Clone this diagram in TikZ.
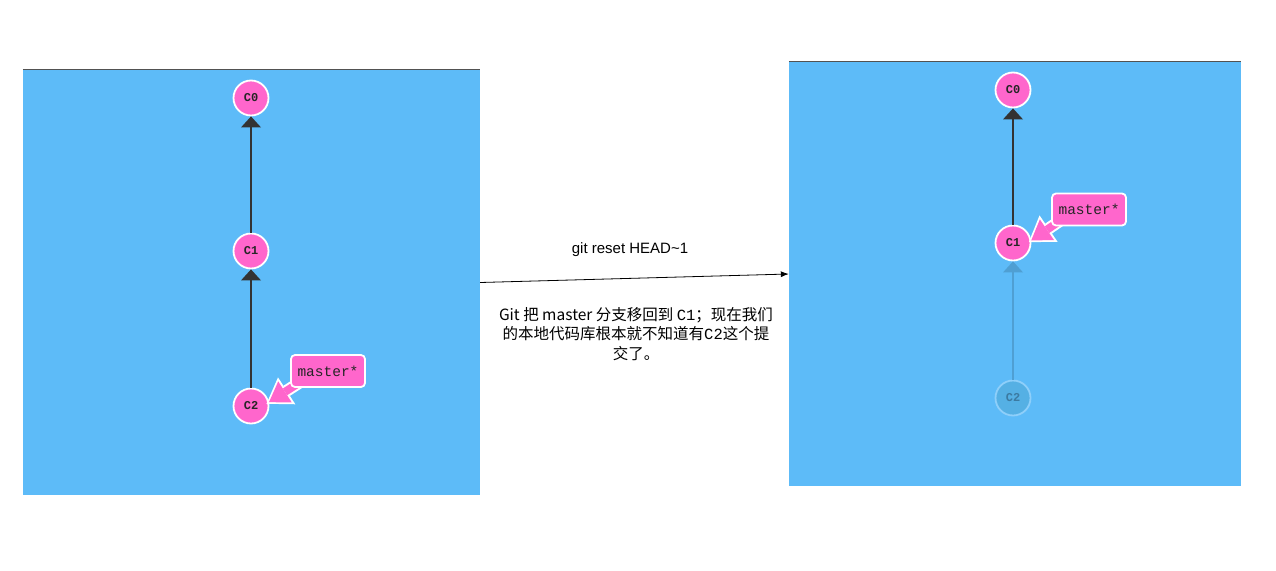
\documentclass[tikz,border=0pt]{standalone}
\usepackage{fontspec}
\setmainfont{Liberation Sans}
\newfontfamily\cjkfont{Noto Sans CJK SC}
\newfontfamily\codefont{Liberation Mono}
\usetikzlibrary{arrows.meta,calc,positioning}
\definecolor{panelblue}{HTML}{5DBBF8}
\definecolor{commitpink}{HTML}{FF66CC}
\definecolor{edgegray}{HTML}{333333}
\definecolor{ghostfill}{HTML}{55B0E4}

\begin{document}
\begin{tikzpicture}[x=1pt, y=-1pt,
    panel/.style={rectangle, fill=panelblue, inner sep=0pt},
    commit/.style={circle, draw=white, line width=1.8pt, fill=commitpink, text=black!85,
                   minimum size=35pt, inner sep=0pt, font=\codefont\bfseries\fontsize{12}{14}\selectfont},
    ghost/.style={fill=ghostfill, draw=panelblue!70!white, text=panelblue!65!black},
    branch/.style={rectangle, rounded corners=4pt, draw=white, line width=1.8pt, fill=commitpink,
                   minimum width=74pt, minimum height=32pt, inner sep=2pt, text=black!85,
                   font=\codefont\fontsize{14.5}{16}\selectfont},
    parent/.style={edgegray, line width=2.4pt, -{Triangle[length=11pt, width=20pt, line width=0pt]}},
    pointer/.style={commitpink, line width=8pt, -{Triangle[length=19pt, width=25pt, line width=0pt]}},
    pointer rim/.style={white, line width=12pt, shorten >=-3pt,
                        -{Triangle[length=24pt, width=32pt, line width=0pt]}},
    note/.style={align=center, font=\fontsize{15}{19.5}\selectfont}
]
    \useasboundingbox (0,0) rectangle (1276,570);

    % panels
    \node[panel, minimum width=457pt, minimum height=425pt] (before) at (251.5,282.5) {};
    \node[panel, minimum width=452pt, minimum height=424pt] (after)  at (1015,274)    {};
    \draw[edgegray!85, line width=1pt] (before.north west) -- (before.north east);
    \draw[edgegray!85, line width=1pt] (after.north west)  -- (after.north east);

    % before reset
    \node[commit] (lc0) at (251,98)  {C0};
    \node[commit] (lc1) at (251,251) {C1};
    \node[commit] (lc2) at (251,406) {C2};
    \draw[parent] (lc1) -- (lc0);
    \draw[parent] (lc2) -- (lc1);
    \coordinate (ltail) at ($(lc2)+(54,-27)$);
    \draw[pointer rim] (ltail) -- (lc2.12);
    \draw[pointer]     (ltail) -- (lc2.12);
    \node[branch] (lmaster) at ($(lc2)+(77,-35)$) {master*};

    % after reset
    \node[commit] (rc0) at (1013,90)  {C0};
    \node[commit] (rc1) at (1013,243) {C1};
    \node[commit, ghost] (rc2) at (1013,398) {C2};
    \draw[parent] (rc1) -- (rc0);
    \draw[parent, draw=panelblue!85!black, fill=panelblue!85!black] (rc2) -- (rc1);
    \coordinate (rtail) at ($(rc1)+(54,-27)$);
    \draw[pointer rim] (rtail) -- (rc1.8);
    \draw[pointer]     (rtail) -- (rc1.8);
    \node[branch] (rmaster) at ($(rc1)+(76,-33.5)$) {master*};

    % reset step
    \draw[line width=0.8pt, -{Latex[length=8pt, width=6pt]}] (before.east) -- (after.west);
    \node[note] (cmd) at (630,250) {git reset HEAD\textasciitilde 1};
    \node[note, font=\cjkfont\fontsize{15.5}{19.5}\selectfont] (explain) at (636,334)
        {Git 把 master 分支移回到 {\codefont C1}；现在我们\\
         的本地代码库根本就不知道有{\codefont C2}这个提\\
         交了。};
\end{tikzpicture}
\end{document}
